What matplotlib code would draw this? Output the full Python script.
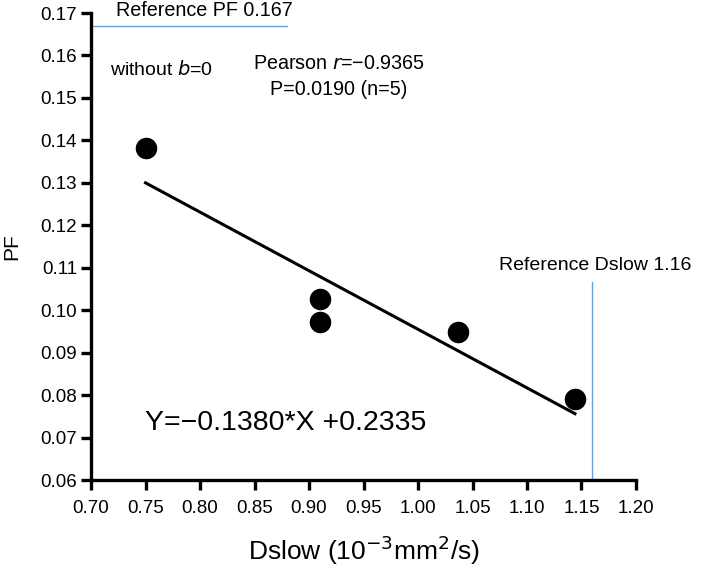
import numpy as np
import matplotlib.pyplot as plt

plt.rcParams['font.family'] = ['Liberation Sans', 'DejaVu Sans']

# =============================
# Data
# =============================
dslow = [0.75, 0.91, 0.91, 1.037, 1.144]
pf = [0.1383, 0.1026, 0.0973, 0.0948, 0.0792]

slope = -0.1380
intercept = 0.2335

ref_pf = 0.167
ref_dslow = 1.16

x_ticks = [0.70, 0.75, 0.80, 0.85, 0.90, 0.95, 1.00, 1.05, 1.10, 1.15, 1.20]
y_ticks = [0.06, 0.07, 0.08, 0.09, 0.10, 0.11, 0.12, 0.13, 0.14, 0.15, 0.16, 0.17]

# =============================
# Figure
# =============================
fig = plt.figure(figsize=(7.04, 5.68), dpi=100)
ax = fig.add_axes([0.1293, 0.1549, 0.7741, 0.8222])

# reference lines
ax.plot([0.70, 0.88], [ref_pf, ref_pf], color='#6f9fdc', lw=1.0)
ax.plot([ref_dslow, ref_dslow], [0.06, 0.1066], color='#6f9fdc', lw=1.0)

# regression line over the data range
xf = np.array([min(dslow), max(dslow)])
ax.plot(xf, slope * xf + intercept, color='black', lw=2.2)

ax.scatter(dslow, pf, s=210, color='black', zorder=3)

ax.set_xlim(0.70, 1.20)
ax.set_ylim(0.06, 0.17)
ax.set_xticks(x_ticks)
ax.set_xticklabels([f"{v:.2f}" for v in x_ticks])
ax.set_yticks(y_ticks)
ax.set_yticklabels([f"{v:.2f}" for v in y_ticks])

for side in ['top', 'right']:
    ax.spines[side].set_visible(False)
for side in ['left', 'bottom']:
    ax.spines[side].set_linewidth(2.4)
ax.tick_params(axis='both', length=7.5, width=2.4, labelsize=13.5)
ax.tick_params(axis='x', pad=7)
ax.tick_params(axis='y', pad=2.5)

ax.set_ylabel("PF", fontsize=15, labelpad=14)
ax.set_xlabel("Dslow (10$^{-3}$mm$^{2}$/s)", fontsize=19, labelpad=12)

# annotations
ax.text(0.723, 0.1705, "Reference PF 0.167", fontsize=14.2, va='center', clip_on=False)
ax.text(0.7174, 0.1566, "without $\\it{b}$=0", fontsize=14, va='center')
ax.text(0.8486, 0.1582, "Pearson $\\it{r}$=\u22120.9365", fontsize=14.2, va='center')
ax.text(0.8642, 0.1521, "P=0.0190 (n=5)", fontsize=14.2, va='center')
ax.text(0.7495, 0.0734, "Y=\u22120.1380*X +0.2335", fontsize=20.5, va='center')
ax.text(1.0743, 0.1106, "Reference Dslow 1.16", fontsize=14, va='center')

fig.savefig("out.png", dpi=100)
